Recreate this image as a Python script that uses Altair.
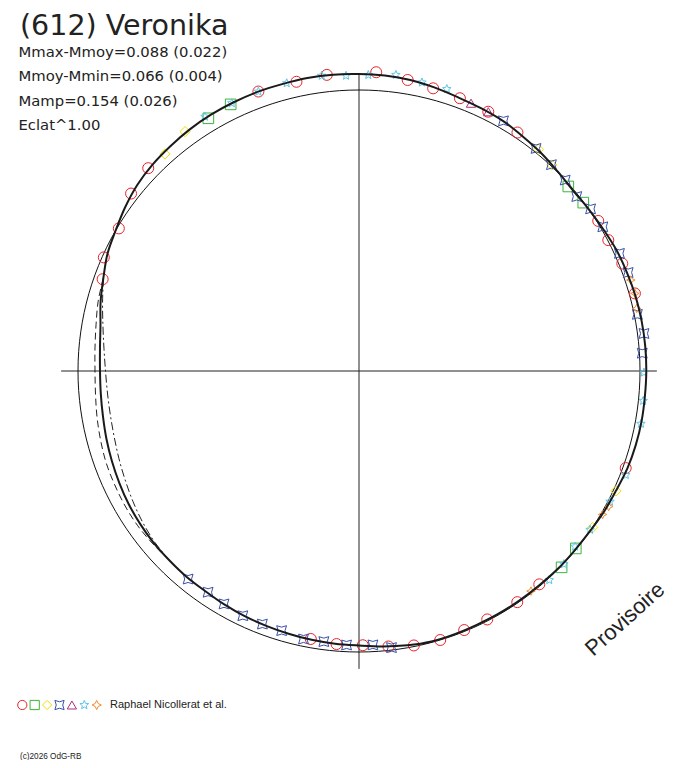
import altair as alt
import pandas as pd

# ---------------- text ----------------
TITLE = "(612) Veronika"
STATS = ["Mmax-Mmoy=0.088 (0.022)", "Mmoy-Mmin=0.066 (0.004)", "Mamp=0.154 (0.026)", "Eclat^1.00"]
OBSERVER = "Raphael Nicollerat et al."
COPYRIGHT = "(c)2026 OdG-RB"
STAMP = "Provisoire"

# ---------------- fitted light curve (phase in degrees, relative flux) ----------------
FIT_PHASE = list(range(0, 360, 5))
FIT_FLUX = [
    1.0569, 1.0552, 1.0516, 1.0440, 1.0356, 1.0310, 1.0267, 1.0178, 1.0107, 1.0018, 0.9964, 1.0000,
    1.0053, 1.0125, 1.0160, 1.0196, 1.0214, 1.0224, 1.0224, 1.0214, 1.0214, 1.0196, 1.0160, 1.0089,
    1.0053, 1.0000, 0.9982, 0.9982, 0.9964, 0.9964, 0.9964, 0.9957, 0.9964, 0.9964, 0.9911, 0.9840,
    0.9769, 0.9744, 0.9715, 0.9680, 0.9651, 0.9626, 0.9591, 0.9555, 0.9555, 0.9537, 0.9530, 0.9502,
    0.9466, 0.9413, 0.9359, 0.9306, 0.9253, 0.9224, 0.9217, 0.9253, 0.9342, 0.9520, 0.9680, 0.9875,
    1.0000, 1.0160, 1.0302, 1.0391, 1.0445, 1.0498, 1.0534, 1.0552, 1.0569, 1.0569, 1.0587, 1.0587,
]
# alternative fits over the phase gap
ALT_PHASE = list(range(225, 295, 5))
DASH_FLUX = [0.9537, 0.9573, 0.9609, 0.9609, 0.9591, 0.9573, 0.9520, 0.9466, 0.9413, 0.9395, 0.9431, 0.9502, 0.9609, 0.9680]
DASHDOT_FLUX = [0.9537, 0.9484, 0.9395, 0.9288, 0.9181, 0.9093, 0.9021, 0.8986, 0.8986, 0.9021, 0.9110, 0.9253, 0.9448, 0.9680]

# ---------------- observations per session ----------------
SESSIONS = ["S1", "S2", "S3", "S4", "S5", "S6", "S7"]
S1_PHASE = [289.7, 294.0, 300.7, 307.9, 313.9, 340.2, 347.8, 353.8, 3.3, 9.5, 14.7, 20.3, 26.5, 33.6, 57.9,
            62.3, 67.8, 74.3, 110.0, 139.8, 145.6, 152.7, 157.9, 163.2, 168.7, 173.9, 179.2, 184.7, 190.2]
S1_FLUX = [0.969, 0.994, 0.994, 1.028, 1.041, 1.057, 1.053, 1.060, 1.065, 1.050, 1.040, 1.035, 1.031, 1.019, 1.005,
           1.002, 1.012, 1.020, 1.010, 0.994, 0.997, 0.995, 0.995, 1.000, 0.996, 0.986, 0.976, 0.975, 0.969]
S2_PHASE = [329.2, 334.3, 48.6, 53.1, 129.3, 134.1]
S2_FLUX = [1.047, 1.053, 0.993, 0.998, 0.997, 1.004]
S3_PHASE = [318.2, 324.0, 39.0, 43.1, 115.0, 123.8]
S3_FLUX = [1.036, 1.053, 1.015, 1.004, 1.009, 1.001]
S4_PHASE = [30.0, 38.5, 43.0, 47.2, 51.3, 55.0, 59.4, 65.7, 69.9, 78.5, 82.5, 86.4, 173.3, 177.1, 182.6,
            187.4, 191.7, 196.6, 200.9, 205.4, 210.1, 214.3, 219.4]
S4_FLUX = [1.028, 1.012, 1.004, 1.000, 0.993, 1.006, 1.008, 1.017, 1.020, 1.011, 1.023, 1.010, 0.991, 0.976, 0.976,
           0.971, 0.974, 0.964, 0.964, 0.964, 0.958, 0.953, 0.958]
S5_PHASE = [22.7, 26.5]
S5_FLUX = [1.033, 1.031]
S6_PHASE = [328.8, 334.6, 340.2, 345.9, 352.8, 357.5, 1.8, 7.1, 12.3, 17.3, 90.3, 96.0, 100.6, 111.3, 117.5,
            124.5, 129.1, 133.3, 137.7]
S6_FLUX = [1.058, 1.055, 1.057, 1.056, 1.059, 1.052, 1.054, 1.062, 1.051, 1.051, 1.014, 1.017, 1.021, 1.019, 1.007,
           0.998, 0.991, 1.002, 1.006]
S7_PHASE = [71.5, 74.3, 77.3, 118.5, 120.5, 142.0]
S7_FLUX = [1.020, 1.020, 1.013, 1.011, 1.006, 0.994]

# ---------------- styles ----------------
FONT = "Liberation Sans"
HEAD_FONT = "DejaVu Sans"
COLORS = ["#e8232b", "#3cb43c", "#f0e000", "#3a4fa8", "#a8327a", "#5ec6e6", "#f28a30"]
BOWTIE = "M-1,-1Q0,-0.4,1,-1Q0.4,0,1,1Q0,0.4,-1,1Q-0.4,0,-1,-1Z"
STAR = ("M0,-1L0.26,-0.36L0.951,-0.309L0.42,0.14L0.588,0.809L0,0.44L-0.588,0.809"
        "L-0.42,0.14L-0.951,-0.309L-0.26,-0.36Z")
SPARK = "M0,-1Q0.15,-0.15,1,0Q0.15,0.15,0,1Q-0.15,0.15,-1,0Q-0.15,-0.15,0,-1Z"
SHAPES = ["circle", "square", "diamond", BOWTIE, "triangle-up", STAR, SPARK]
SIZES = [121, 72, 100, 110, 90, 230, 120]

W, H = 672, 752
CX, CY = 351, 363      # centre of the polar diagram inside the plot area (px)
UNIT = 281             # radius of the mean-brightness circle (px)
AXIS_EXT = 1.06
LEG_X0, LEG_DX, LEG_Y = 14.3, 12.4, 697

x_scale = alt.Scale(domain=[-CX / UNIT, (W - CX) / UNIT], nice=False, zero=False)
y_scale = alt.Scale(domain=[-(H - CY) / UNIT, CY / UNIT], nice=False, zero=False)
shape_scale = alt.Scale(domain=SESSIONS, range=SHAPES)
color_scale = alt.Scale(domain=SESSIONS, range=COLORS)
POLAR = dict(px="datum.flux * sin(datum.phase * PI / 180)",
             py="datum.flux * cos(datum.phase * PI / 180)")


def xy():
    return dict(x=alt.X("px:Q", scale=x_scale, axis=None),
                y=alt.Y("py:Q", scale=y_scale, axis=None))


# ---------------- data tables ----------------
fit_df = pd.DataFrame({"phase": FIT_PHASE, "flux": FIT_FLUX})
dash_df = pd.DataFrame({"phase": ALT_PHASE, "flux": DASH_FLUX})
dashdot_df = pd.DataFrame({"phase": ALT_PHASE, "flux": DASHDOT_FLUX})
obs_parts = []
for s, ph, fl in zip(SESSIONS,
                     [S1_PHASE, S2_PHASE, S3_PHASE, S4_PHASE, S5_PHASE, S6_PHASE, S7_PHASE],
                     [S1_FLUX, S2_FLUX, S3_FLUX, S4_FLUX, S5_FLUX, S6_FLUX, S7_FLUX]):
    obs_parts.append(pd.DataFrame({"session": s, "phase": ph, "flux": fl}))
obs_df = pd.concat(obs_parts, ignore_index=True)
legend_df = pd.DataFrame({"session": SESSIONS, "i": list(range(len(SESSIONS)))})
axes_df = pd.DataFrame({"x1": [-AXIS_EXT, 0.0], "x2": [AXIS_EXT, 0.0],
                        "y1": [0.0, -AXIS_EXT], "y2": [0.0, AXIS_EXT]})

# ---------------- layers ----------------
axes = alt.Chart(axes_df).mark_rule(color="#222", strokeWidth=1).encode(
    x=alt.X("x1:Q", scale=x_scale, axis=None), x2="x2:Q",
    y=alt.Y("y1:Q", scale=y_scale, axis=None), y2="y2:Q")

mean_circle = alt.Chart(alt.sequence(0, 362, 2, as_="phase")).transform_calculate(
    flux="1").transform_calculate(**POLAR).mark_line(color="#111", strokeWidth=1).encode(
    **xy(), order="phase:Q")

dash_line = alt.Chart(dash_df).transform_calculate(**POLAR).mark_line(
    color="#222", strokeWidth=1, strokeDash=[7, 4], interpolate="cardinal").encode(**xy(), order="phase:Q")
dashdot_line = alt.Chart(dashdot_df).transform_calculate(**POLAR).mark_line(
    color="#222", strokeWidth=1, strokeDash=[8, 3, 2, 3], interpolate="cardinal").encode(**xy(), order="phase:Q")

points = alt.Chart(obs_df).transform_calculate(**POLAR).mark_point(
    filled=False, strokeWidth=1, opacity=1).encode(
    **xy(),
    shape=alt.Shape("session:N", scale=shape_scale, legend=None),
    color=alt.Color("session:N", scale=color_scale, legend=None),
    size=alt.Size("session:O", scale=alt.Scale(domain=SESSIONS, range=SIZES), legend=None),
)

fit_line = alt.Chart(fit_df).transform_calculate(**POLAR).mark_line(
    color="#1a1a1a", strokeWidth=2, interpolate="cardinal-closed").encode(**xy(), order="phase:Q")

legend_row = alt.Chart(legend_df).transform_calculate(
    px=f"({LEG_X0} + {LEG_DX} * datum.i - {CX}) / {UNIT}",
    py=f"({CY} - {LEG_Y}) / {UNIT}",
).mark_point(filled=False, strokeWidth=1, opacity=1, size=85).encode(
    **xy(),
    shape=alt.Shape("session:N", scale=shape_scale, legend=None),
    color=alt.Color("session:N", scale=color_scale, legend=None),
)


def label(txt, x, y, size, font=FONT, **kw):
    return alt.Chart(pd.DataFrame({"t": [txt]})).mark_text(
        font=font, fontSize=size, color="#222", align=kw.pop("align", "left"),
        baseline=kw.pop("baseline", "alphabetic"), **kw).encode(
        x=alt.value(x), y=alt.value(y), text="t:N")


texts = [label(TITLE, 12, 27, 28.5, font=HEAD_FONT)]
for i, s in enumerate(STATS):
    texts.append(label(s, 10.5, 48.7 + 24.5 * i, 14.8, font=HEAD_FONT))
texts.append(label(OBSERVER, 102, 700, 11))
texts.append(label(COPYRIGHT, 12, 751, 8.2))
texts.append(label(STAMP, 617, 611, 22, align="center", baseline="middle", angle=318))

chart = alt.layer(axes, mean_circle, dash_line, dashdot_line, points, fit_line, legend_row,
                  *texts).properties(
    width=W, height=H, padding=0, autosize=alt.AutoSizeParams(type="none"),
    background="white",
).configure_view(stroke=None)

chart.save("out.html", embed_options={"renderer": "svg", "actions": False})
